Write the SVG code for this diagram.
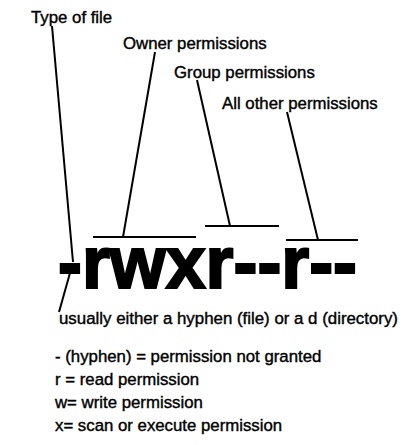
<svg xmlns="http://www.w3.org/2000/svg" width="404" height="445" viewBox="0 0 404 445">
<style>
.lbl{font-family:"Liberation Sans",Arial,sans-serif;font-size:16.8px;fill:#000;stroke:#000;stroke-width:0.4}
.big{font-family:"Liberation Sans",Arial,sans-serif;font-weight:bold;font-size:74px;fill:#000;stroke:#000;stroke-width:2.2}
.ln{stroke:#000;stroke-width:2;fill:none}
</style>
<rect width="404" height="445" fill="#fff"/>
<g id="perm-string"><text class="big" x="58" y="288" textLength="299" lengthAdjust="spacingAndGlyphs">-rwxr--r--</text></g>
<g id="type-of-file"><text class="lbl" x="31" y="23">Type of file</text></g>
<g id="owner"><text class="lbl" x="123" y="49">Owner permissions</text></g>
<g id="group"><text class="lbl" x="174" y="78">Group permissions</text></g>
<g id="other"><text class="lbl" x="222" y="109">All other permissions</text></g>
<g id="type-note"><text class="lbl" x="59" y="324" textLength="339" lengthAdjust="spacingAndGlyphs">usually either a hyphen (file) or a d (directory)</text></g>
<g id="legend">
<text class="lbl" x="55" y="362">- (hyphen) = permission not granted</text>
<text class="lbl" x="55" y="385">r = read permission</text>
<text class="lbl" x="55" y="408">w= write permission</text>
<text class="lbl" x="55" y="431">x= scan or execute permission</text>
</g>
<g id="connectors">
<path class="ln" d="M52,26 L73,262"/>
<path class="ln" d="M70,273 L59,312"/>
<path class="ln" d="M155,52 L123,237"/>
<path class="ln" d="M93,237 H196"/>
<path class="ln" d="M197,80 L230,226"/>
<path class="ln" d="M205,226 H279"/>
<path class="ln" d="M287,112 L318,240"/>
<path class="ln" d="M286,240 H358"/>
</g>
</svg>
